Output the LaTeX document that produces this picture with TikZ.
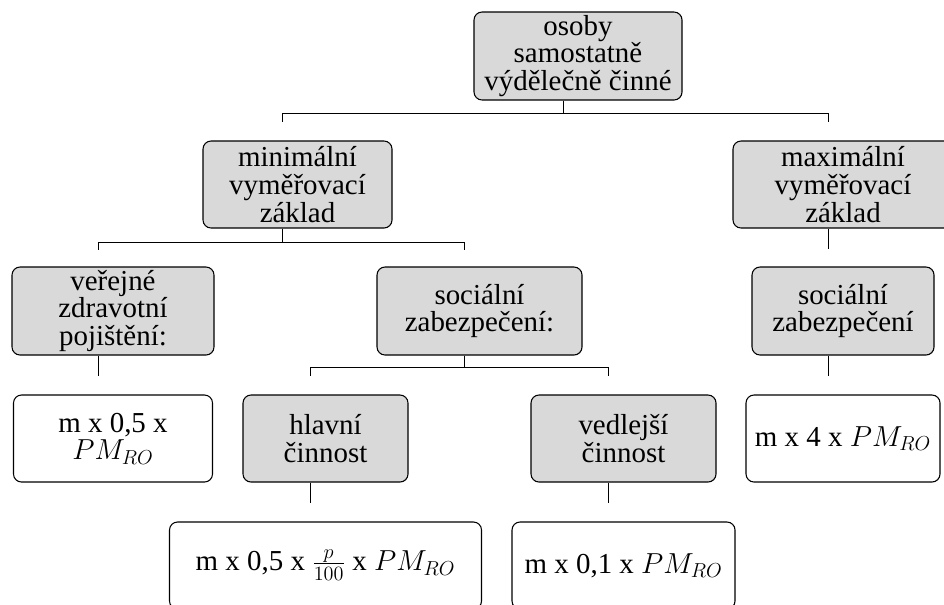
\documentclass[tikz,border=0pt]{standalone}
\usepackage{fix-cm}
\usepackage{fontspec}
\setmainfont{Liberation Serif}
\definecolor{boxgray}{HTML}{D9D9D9}

\begin{document}
\begin{tikzpicture}[x=0.75pt,y=-0.75pt,
        box/.style={draw=black,line width=0.8pt,rounded corners=6pt,align=center,
            inner sep=0pt,font=\fontsize{21.7}{20.8}\selectfont},
        ln/.style={xshift=-11.25pt}]
    \useasboundingbox (0,0) rectangle (944,604);
    \clip (0,0) rectangle (944,604);

    \begin{scope}[every node/.style={box,fill=boxgray}]
        \node[minimum width=156pt,minimum height=66pt] (osvc) at (578,56) {osoby\\samostatně\\výdělečně činné};
        \node[minimum width=141.75pt,minimum height=65.25pt] (minvz) at (297.5,184.5) {minimální\\vyměřovací\\základ};
        \node[minimum width=165pt,minimum height=65.25pt] (maxvz) at (843,184.5) {maximální\\vyměřovací\\základ};
        \node[minimum width=151.5pt,minimum height=66pt] (zp) at (113,311) {veřejné\\zdravotní\\pojištění:};
        \node[minimum width=153.75pt,minimum height=66pt] (sz) at (479.5,311) {sociální\\zabezpečení:};
        \node[minimum width=136.5pt,minimum height=66pt] (szmax) at (843,311) {sociální\\zabezpečení};
        \node[minimum width=123.75pt,minimum height=65.25pt] (hlavni) at (325.5,438.5) {hlavní\\činnost};
        \node[minimum width=138.75pt,minimum height=65.25pt] (vedlejsi) at (623.5,438.5) {vedlejší\\činnost};
    \end{scope}

    \begin{scope}[every node/.style={box,fill=white}]
        \node[minimum width=149.25pt,minimum height=65.25pt] (zpvzorec) at (113,438.5) {m x 0,5 x\\$PM_{RO}$};
        \node[minimum width=145.5pt,minimum height=65.25pt] (maxvzorec) at (843,438.5) {m x 4 x $PM_{RO}$};
        \node[minimum width=234pt,minimum height=65.25pt] (hlvzorec) at (325.5,565.5) {m x 0,5 x $\frac{p}{100}$ x $PM_{RO}$};
        \node[minimum width=167.25pt,minimum height=65.25pt] (vedvzorec) at (623.5,565.5) {m x 0,1 x $PM_{RO}$};
    \end{scope}

    \begin{scope}[line width=0.75pt]
        \draw[shorten >=13.5pt] ([ln]osvc.south) -- ++(0,13) -| ([ln]minvz.north);
        \draw[shorten >=13.5pt] ([ln]osvc.south) -- ++(0,13) -| ([ln]maxvz.north);
        \draw[shorten >=12pt] ([ln]minvz.south) -- ++(0,14) -| ([ln]zp.north);
        \draw[shorten >=12pt] ([ln]minvz.south) -- ++(0,14) -| ([ln]sz.north);
        \draw[shorten >=12.75pt] ([ln]maxvz.south) -- ([ln]szmax.north);
        \draw[shorten >=13.5pt] ([ln]zp.south) -- ([ln]zpvzorec.north);
        \draw[shorten >=13.5pt] ([ln]sz.south) -- ++(0,12) -| ([ln]hlavni.north);
        \draw[shorten >=13.5pt] ([ln]sz.south) -- ++(0,12) -| ([ln]vedlejsi.north);
        \draw[shorten >=13.5pt] ([ln]szmax.south) -- ([ln]maxvzorec.north);
        \draw[shorten >=13.5pt] ([ln]hlavni.south) -- ([ln]hlvzorec.north);
        \draw[shorten >=13.5pt] ([ln]vedlejsi.south) -- ([ln]vedvzorec.north);
    \end{scope}
\end{tikzpicture}
\end{document}
